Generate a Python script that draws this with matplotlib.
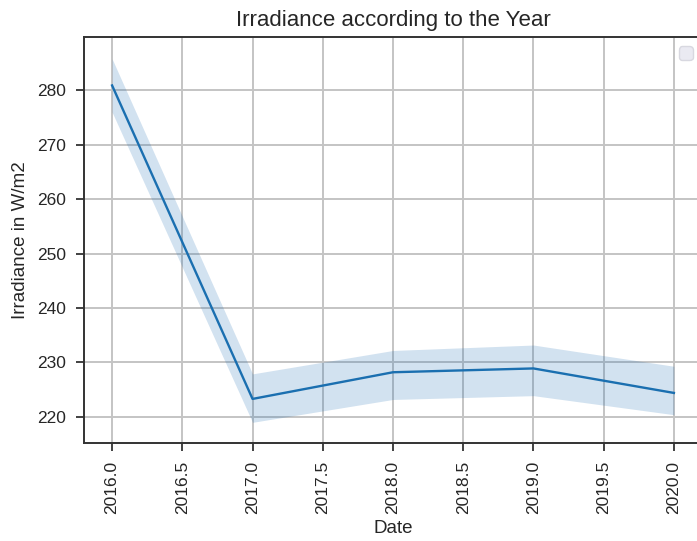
import matplotlib
matplotlib.use("Agg")
import matplotlib.pyplot as plt

# Yearly mean irradiance with its confidence band
years = [2016, 2017, 2018, 2019, 2020]
irradiance = [280.9, 223.3, 228.2, 228.9, 224.4]
ci_low = [276.0, 219.0, 223.2, 223.9, 220.4]
ci_high = [285.8, 227.9, 232.2, 233.2, 229.3]

plt.rcParams["font.family"] = ["Liberation Sans", "DejaVu Sans"]
plt.rcParams["text.color"] = "#262626"
plt.rcParams["axes.labelcolor"] = "#262626"
plt.rcParams["xtick.color"] = "#262626"
plt.rcParams["ytick.color"] = "#262626"

fig = plt.figure(figsize=(6.97, 5.41), dpi=100)
ax = fig.add_axes([84 / 697, 1 - 443 / 541, (702 - 84) / 697, (443 - 37) / 541])

ax.fill_between(years, ci_low, ci_high, color="#1f6fb4", alpha=0.2, linewidth=0)
ax.plot(years, irradiance, color="#1a6fb0", linewidth=1.7)

ax.set_xlim(2015.8, 2020.2)
ax.set_ylim(215.2, 289.8)
ax.set_xticks([2016.0, 2016.5, 2017.0, 2017.5, 2018.0, 2018.5, 2019.0, 2019.5, 2020.0])
ax.set_xticklabels([f"{v:.1f}" for v in ax.get_xticks()], rotation=90)
ax.set_yticks([220, 230, 240, 250, 260, 270, 280])

ax.grid(True, color="#c4c4c4", linewidth=1.4)
ax.set_axisbelow(True)
for s in ax.spines.values():
    s.set_color("#333333")
    s.set_linewidth(1.4)
ax.tick_params(axis="both", labelsize=12.5, color="#333333", length=6, width=1.3)
ax.tick_params(axis="x", pad=7)
ax.tick_params(axis="y", pad=7)

ax.set_title("Irradiance according to the Year", fontsize=16, pad=8)
ax.set_xlabel("Date", fontsize=13.5, labelpad=4)
ax.set_ylabel("Irradiance in W/m2", fontsize=13.5, labelpad=6)

ax.legend(handles=[], loc="upper right", facecolor="#eaeaf2", edgecolor="#d8d8e0",
          framealpha=1.0, fontsize=13)

fig.savefig("out.png", dpi=100)
